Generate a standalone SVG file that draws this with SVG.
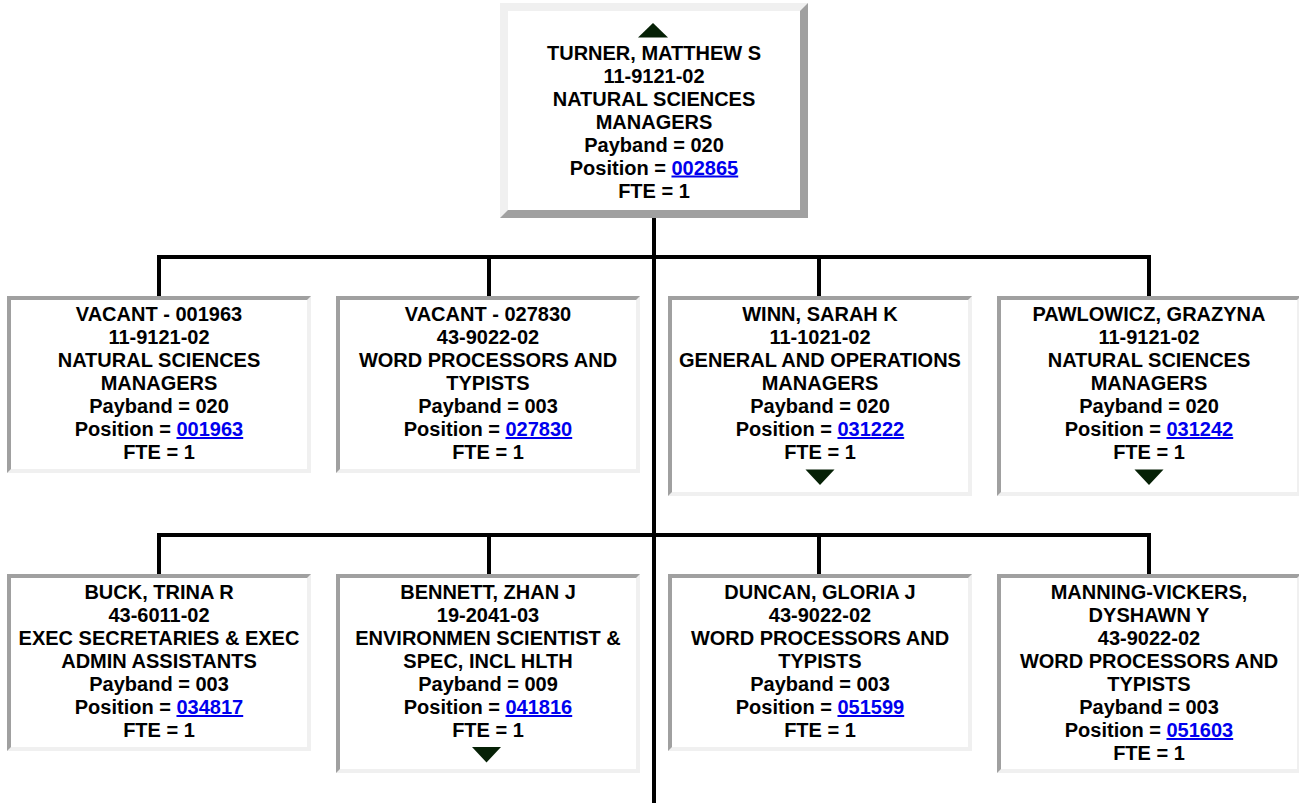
<svg xmlns="http://www.w3.org/2000/svg" width="1299" height="803" viewBox="0 0 1299 803">
<style>
text{font-family:"Liberation Sans",Arial,Helvetica,sans-serif;font-size:20px;font-weight:bold;fill:#000;text-anchor:middle}
.lnk{fill:#0000ee;text-decoration:underline}
.lt{fill:#f0f0f0}
.dk{fill:#a0a0a0}
.in{fill:#fff}
.tri{fill:#062106}
.conn{fill:none;stroke:#000;stroke-width:4;stroke-linejoin:miter;stroke-linecap:butt}
</style>
<rect width="1299" height="803" fill="#fff"/>
<g id="connectors">
<path class="conn" d="M654,218 V803"/>
<path class="conn" d="M159,296 V257 H1149 V296 M489,257 V296 M819,257 V296"/>
<path class="conn" d="M159,574 V535 H1149 V574 M489,535 V574 M819,535 V574"/>
</g>
<g id="turner">
<rect class="dk" x="500" y="3" width="308" height="215"/>
<polygon class="lt" points="500,3 808,3 800,11 508,11 508,210 500,218"/>
<rect class="in" x="508" y="11" width="292" height="199"/>
<polygon class="tri" points="638,37.5 668,37.5 653,23"/>
<text x="654" y="59.5">TURNER, MATTHEW S</text>
<text x="654" y="82.5">11-9121-02</text>
<text x="654" y="105.5">NATURAL SCIENCES</text>
<text x="654" y="128.5">MANAGERS</text>
<text x="654" y="151.5">Payband = 020</text>
<text x="654" y="174.5">Position = <tspan class="lnk">002865</tspan></text>
<text x="654" y="197.5">FTE = 1</text>
</g>
<g id="vacant001963">
<rect class="lt" x="7" y="296" width="304" height="177"/>
<polygon class="dk" points="7,296 311,296 307,300 11,300 11,469 7,473"/>
<rect class="in" x="11" y="300" width="296" height="169"/>
<text x="159" y="321">VACANT - 001963</text>
<text x="159" y="344">11-9121-02</text>
<text x="159" y="367">NATURAL SCIENCES</text>
<text x="159" y="390">MANAGERS</text>
<text x="159" y="413">Payband = 020</text>
<text x="159" y="436">Position = <tspan class="lnk">001963</tspan></text>
<text x="159" y="459">FTE = 1</text>
</g>
<g id="vacant027830">
<rect class="lt" x="336" y="296" width="304" height="177"/>
<polygon class="dk" points="336,296 640,296 636,300 340,300 340,469 336,473"/>
<rect class="in" x="340" y="300" width="296" height="169"/>
<text x="488" y="321">VACANT - 027830</text>
<text x="488" y="344">43-9022-02</text>
<text x="488" y="367">WORD PROCESSORS AND</text>
<text x="488" y="390">TYPISTS</text>
<text x="488" y="413">Payband = 003</text>
<text x="488" y="436">Position = <tspan class="lnk">027830</tspan></text>
<text x="488" y="459">FTE = 1</text>
</g>
<g id="winn">
<rect class="lt" x="668" y="296" width="304" height="200"/>
<polygon class="dk" points="668,296 972,296 968,300 672,300 672,492 668,496"/>
<rect class="in" x="672" y="300" width="296" height="192"/>
<text x="820" y="321">WINN, SARAH K</text>
<text x="820" y="344">11-1021-02</text>
<text x="820" y="367">GENERAL AND OPERATIONS</text>
<text x="820" y="390">MANAGERS</text>
<text x="820" y="413">Payband = 020</text>
<text x="820" y="436">Position = <tspan class="lnk">031222</tspan></text>
<text x="820" y="459">FTE = 1</text>
<polygon class="tri" points="805.5,469.5 834.5,469.5 820,485"/>
</g>
<g id="pawlowicz">
<rect class="lt" x="997" y="296" width="304" height="200"/>
<polygon class="dk" points="997,296 1301,296 1297,300 1001,300 1001,492 997,496"/>
<rect class="in" x="1001" y="300" width="296" height="192"/>
<text x="1149" y="321">PAWLOWICZ, GRAZYNA</text>
<text x="1149" y="344">11-9121-02</text>
<text x="1149" y="367">NATURAL SCIENCES</text>
<text x="1149" y="390">MANAGERS</text>
<text x="1149" y="413">Payband = 020</text>
<text x="1149" y="436">Position = <tspan class="lnk">031242</tspan></text>
<text x="1149" y="459">FTE = 1</text>
<polygon class="tri" points="1134.5,469.5 1163.5,469.5 1149,485"/>
</g>
<g id="buck">
<rect class="lt" x="7" y="574" width="304" height="177"/>
<polygon class="dk" points="7,574 311,574 307,578 11,578 11,747 7,751"/>
<rect class="in" x="11" y="578" width="296" height="169"/>
<text x="159" y="599">BUCK, TRINA R</text>
<text x="159" y="622">43-6011-02</text>
<text x="159" y="645">EXEC SECRETARIES &amp; EXEC</text>
<text x="159" y="668">ADMIN ASSISTANTS</text>
<text x="159" y="691">Payband = 003</text>
<text x="159" y="714">Position = <tspan class="lnk">034817</tspan></text>
<text x="159" y="737">FTE = 1</text>
</g>
<g id="bennett">
<rect class="lt" x="336" y="574" width="304" height="199"/>
<polygon class="dk" points="336,574 640,574 636,578 340,578 340,769 336,773"/>
<rect class="in" x="340" y="578" width="296" height="191"/>
<text x="488" y="599">BENNETT, ZHAN J</text>
<text x="488" y="622">19-2041-03</text>
<text x="488" y="645">ENVIRONMEN SCIENTIST &amp;</text>
<text x="488" y="668">SPEC, INCL HLTH</text>
<text x="488" y="691">Payband = 009</text>
<text x="488" y="714">Position = <tspan class="lnk">041816</tspan></text>
<text x="488" y="737">FTE = 1</text>
<polygon class="tri" points="472,747 501,747 486.5,762.5"/>
</g>
<g id="duncan">
<rect class="lt" x="668" y="574" width="304" height="177"/>
<polygon class="dk" points="668,574 972,574 968,578 672,578 672,747 668,751"/>
<rect class="in" x="672" y="578" width="296" height="169"/>
<text x="820" y="599">DUNCAN, GLORIA J</text>
<text x="820" y="622">43-9022-02</text>
<text x="820" y="645">WORD PROCESSORS AND</text>
<text x="820" y="668">TYPISTS</text>
<text x="820" y="691">Payband = 003</text>
<text x="820" y="714">Position = <tspan class="lnk">051599</tspan></text>
<text x="820" y="737">FTE = 1</text>
</g>
<g id="manningvickers">
<rect class="lt" x="997" y="574" width="304" height="199"/>
<polygon class="dk" points="997,574 1301,574 1297,578 1001,578 1001,769 997,773"/>
<rect class="in" x="1001" y="578" width="296" height="191"/>
<text x="1149" y="599">MANNING-VICKERS,</text>
<text x="1149" y="622">DYSHAWN Y</text>
<text x="1149" y="645">43-9022-02</text>
<text x="1149" y="668">WORD PROCESSORS AND</text>
<text x="1149" y="691">TYPISTS</text>
<text x="1149" y="714">Payband = 003</text>
<text x="1149" y="737">Position = <tspan class="lnk">051603</tspan></text>
<text x="1149" y="760">FTE = 1</text>
</g>
</svg>
